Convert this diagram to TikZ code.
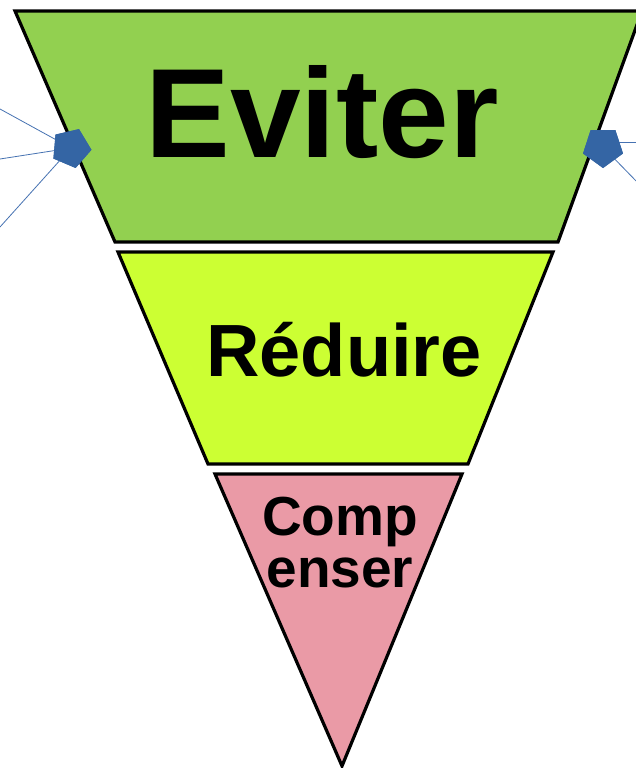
\documentclass[tikz,border=0pt]{standalone}
\usepackage{fontspec}
\setmainfont{Liberation Sans}
\usetikzlibrary{shapes.geometric}
\definecolor{gtop}{RGB}{146,208,80}
\definecolor{gmid}{RGB}{204,255,51}
\definecolor{gbot}{RGB}{234,154,166}
\definecolor{pent}{RGB}{52,101,164}
\definecolor{lnk}{RGB}{70,114,178}
\tikzset{
  layer/.style={draw=black, line width=3.2pt, line join=miter},
  lbl/.style={anchor=base, inner sep=0pt, text=black},
  pentmark/.style={regular polygon, regular polygon sides=5, fill=pent, draw=none, inner sep=0pt, minimum size=41pt},
  feed/.style={draw=lnk, line width=0.8pt}
}
\begin{document}
\begin{tikzpicture}[x=1pt,y=-1pt]
\useasboundingbox (0,0) rectangle (636,768);
\clip (0,0) rectangle (636,768);
\fill[white] (0,0) rectangle (636,768);
% layers
\draw[layer, fill=gtop] (15,11) -- (642,11) -- (558,242) -- (115,242) -- cycle;
\draw[layer, fill=gmid] (118,252) -- (553,252) -- (468,464) -- (208,464) -- cycle;
\draw[layer, fill=gbot] (215,474) -- (462,474) -- (342,766) -- cycle;
% labels
\node[lbl, font=\fontsize{127}{127}\selectfont\bfseries] (eviter) at (322,157) {Eviter};
\node[lbl, font=\fontsize{74}{74}\selectfont\bfseries] (reduire) at (344,376) {Réduire};
\node[lbl, font=\fontsize{55}{55}\selectfont\bfseries] (comp) at (340,535) {Comp};
\node[lbl, font=\fontsize{55}{55}\selectfont\bfseries] (enser) at (340,587) {enser};
% left feeds
\coordinate (l1) at (0,109);
\coordinate (l2) at (0,159);
\coordinate (l3) at (0,227);
\node[pentmark, rotate=-95] (pl) at (71,148) {};
\draw[feed] (l1) -- (pl.center);
\draw[feed] (l2) -- (pl.center);
\draw[feed] (l3) -- (pl.center);
\node[pentmark, rotate=-95] at (71,148) {};
% right feeds
\coordinate (r1) at (640,142);
\coordinate (r2) at (640,185);
\coordinate (pr1) at (604,142);
\node[pentmark, rotate=180, minimum size=42pt] (pr) at (603,147) {};
\draw[feed] (r1) -- (pr1);
\draw[feed] (r2) -- (pr.center);
\node[pentmark, rotate=180, minimum size=42pt] at (603,147) {};
\end{tikzpicture}
\end{document}
